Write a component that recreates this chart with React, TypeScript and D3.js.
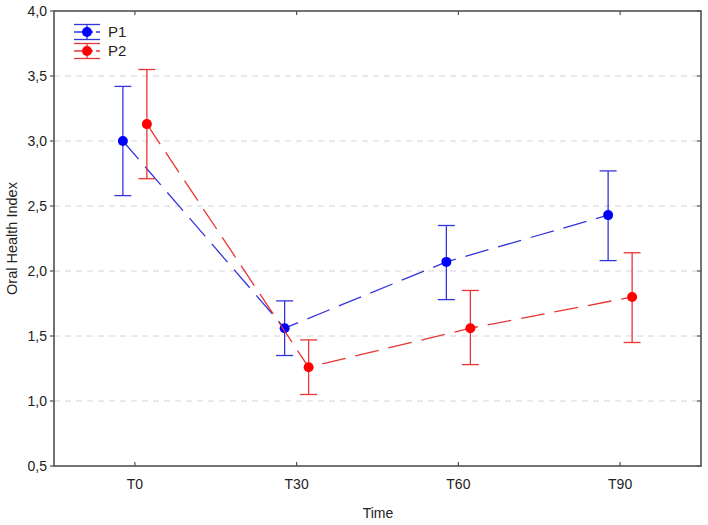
import React from "react";
import * as d3 from "d3";

const categories = ["T0", "T30", "T60", "T90"];
const p1Mean = [3.0, 1.56, 2.07, 2.43];
const p1Low = [2.58, 1.35, 1.78, 2.08];
const p1High = [3.42, 1.77, 2.35, 2.77];
const p2Mean = [3.13, 1.26, 1.56, 1.8];
const p2Low = [2.71, 1.05, 1.28, 1.45];
const p2High = [3.55, 1.47, 1.85, 2.14];
const yTicks = [0.5, 1.0, 1.5, 2.0, 2.5, 3.0, 3.5, 4.0];
const gridTicks = [1.0, 1.5, 2.0, 2.5, 3.0, 3.5];

const W = 708, H = 525;
const L = 54, R = 701, T = 11, B = 466;

export default function App() {
  const x = d3.scaleBand<string>().domain(categories).range([L, R]).padding(0);
  const y = d3.scaleLinear().domain([0.5, 4.0]).range([B, T]);
  const cx = (c: string) => (x(c) as number) + x.bandwidth() / 2;
  const fmt = (v: number) => d3.format(".1f")(v).replace(".", ",");

  const series = [
    { name: "P1", mean: p1Mean, lo: p1Low, hi: p1High, off: -12, dot: "#0000ff", line: "#3434dc" },
    { name: "P2", mean: p2Mean, lo: p2Low, hi: p2High, off: 12, dot: "#ff0000", line: "#e83434" },
  ];
  const font = "Liberation Sans, Arial, sans-serif";

  return (
    <svg width={W} height={H} style={{ position: "absolute", left: 0, top: 0, background: "#fff" }}>
      <rect x={0} y={0} width={W} height={H} fill="#fff" />
      {gridTicks.map((t) => (
        <line key={t} x1={L} x2={R} y1={y(t)} y2={y(t)} stroke="#d4d4d4" strokeWidth={1} strokeDasharray="6,5" />
      ))}
      {series.map((s) => {
        const line = d3
          .line<number>()
          .x((_, i) => cx(categories[i]) + s.off)
          .y((v) => y(v));
        return (
          <g key={s.name}>
            <path d={line(s.mean) || ""} fill="none" stroke={s.line} strokeWidth={1.3} strokeDasharray="24,10" />
            {categories.map((c, i) => {
              const px = cx(c) + s.off;
              return (
                <g key={c}>
                  <line x1={px} x2={px} y1={y(s.lo[i])} y2={y(s.hi[i])} stroke={s.line} strokeWidth={1.3} />
                  <line x1={px - 8.5} x2={px + 8.5} y1={y(s.lo[i])} y2={y(s.lo[i])} stroke={s.line} strokeWidth={1.3} />
                  <line x1={px - 8.5} x2={px + 8.5} y1={y(s.hi[i])} y2={y(s.hi[i])} stroke={s.line} strokeWidth={1.3} />
                  <circle cx={px} cy={y(s.mean[i])} r={5} fill={s.dot} />
                </g>
              );
            })}
          </g>
        );
      })}
      {/* frame */}
      <rect x={L} y={T} width={R - L} height={B - T} fill="none" stroke="#505050" strokeWidth={1.6} />
      {yTicks.map((t) => (
        <g key={t}>
          <line x1={L - 4} x2={L} y1={y(t)} y2={y(t)} stroke="#505050" strokeWidth={1.2} />
          <line x1={R - 4} x2={R} y1={y(t)} y2={y(t)} stroke="#505050" strokeWidth={1.2} />
          <text x={L - 7} y={y(t)} dy="0.35em" textAnchor="end" fontFamily={font} fontSize={14} fill="#222">
            {fmt(t)}
          </text>
        </g>
      ))}
      {categories.map((c) => (
        <g key={c}>
          <line x1={cx(c)} x2={cx(c)} y1={B} y2={B - 4} stroke="#505050" strokeWidth={1.2} />
          <line x1={cx(c)} x2={cx(c)} y1={T} y2={T + 4} stroke="#505050" strokeWidth={1.2} />
          <text x={cx(c)} y={489} textAnchor="middle" fontFamily={font} fontSize={14} fill="#222">
            {c}
          </text>
        </g>
      ))}
      <text x={378} y={518} textAnchor="middle" fontFamily={font} fontSize={14} fill="#222">
        Time
      </text>
      <text
        transform={`translate(12,${(T + B) / 2}) rotate(-90)`}
        dy="0.35em"
        textAnchor="middle"
        fontFamily={font}
        fontSize={14.5}
        fill="#222"
      >
        Oral Health Index
      </text>
      {/* legend */}
      {series.map((s, i) => {
        const ly = 32 + i * 19;
        const lx = 87;
        return (
          <g key={s.name}>
            <line x1={lx - 13} x2={lx + 13} y1={ly - 7.5} y2={ly - 7.5} stroke={s.line} strokeWidth={1.3} />
            <line x1={lx - 13} x2={lx + 13} y1={ly + 7.5} y2={ly + 7.5} stroke={s.line} strokeWidth={1.3} />
            <line x1={lx} x2={lx} y1={ly - 7.5} y2={ly + 7.5} stroke={s.line} strokeWidth={1.3} />
            <line x1={lx - 13} x2={lx + 13} y1={ly} y2={ly} stroke={s.line} strokeWidth={1.3} strokeDasharray="8,3" />
            <circle cx={lx} cy={ly} r={5} fill={s.dot} />
            <text x={lx + 21} y={ly} dy="0.36em" fontFamily={font} fontSize={15} fill="#222">
              {s.name}
            </text>
          </g>
        );
      })}
    </svg>
  );
}
